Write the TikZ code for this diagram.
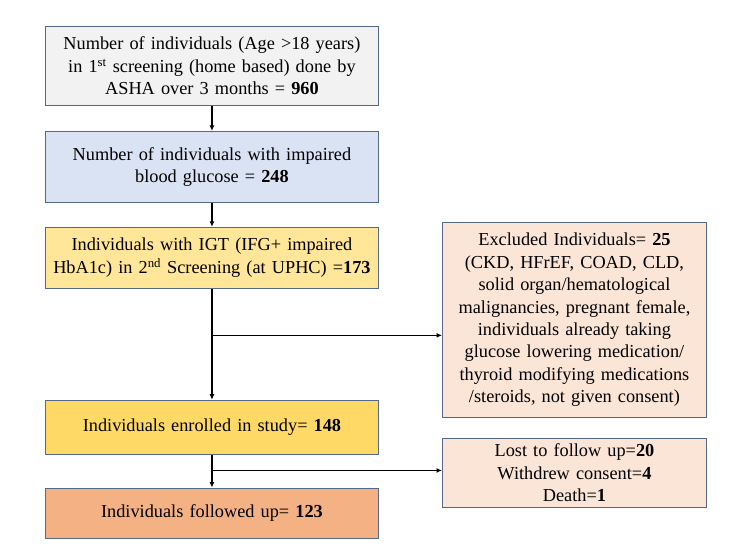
\documentclass[tikz,border=0pt]{standalone}
\usepackage{fontspec}
\setmainfont{Liberation Serif}
\usetikzlibrary{arrows.meta,positioning,calc}
\definecolor{edgeblue}{RGB}{84,104,135}
\definecolor{boxgray}{RGB}{242,242,242}
\definecolor{boxblue}{RGB}{218,227,243}
\definecolor{boxpale}{RGB}{255,230,153}
\definecolor{boxgold}{RGB}{255,217,102}
\definecolor{boxorange}{RGB}{244,177,131}
\definecolor{boxpeach}{RGB}{251,229,214}

\begin{document}
\begin{tikzpicture}[
  x=1pt, y=-1pt,
  font=\fontsize{18.3}{22.4}\selectfont,
  box/.style={draw=edgeblue, line width=0.9pt, align=center, inner sep=2pt, minimum width=333pt, text width=327pt},
  side/.style={draw=edgeblue, line width=0.9pt, align=center, inner sep=2pt, minimum width=264pt, text width=260pt},
  arr/.style={-{Latex[length=5.5pt,width=5pt]}, line width=1.3pt, black}
]
\useasboundingbox (0,0) rectangle (750,555);
\node[box, fill=boxgray, minimum height=79pt, anchor=north west] (scr1) at (45,26)
  {Number of individuals (Age >18 years)\\in 1\textsuperscript{st} screening (home based) done by\\ASHA over 3 months = \textbf{960}};
\node[box, fill=boxblue, minimum height=71pt, below=25pt of scr1] (glu)
  {Number of individuals with impaired\\blood glucose = \textbf{248}};
\node[box, fill=boxpale, minimum height=61pt, below=24pt of glu] (igt)
  {Individuals with IGT (IFG+ impaired\\HbA1c) in 2\textsuperscript{nd} Screening (at UPHC) =\textbf{173}};
\node[box, fill=boxgold, minimum height=54pt, below=111pt of igt] (enr)
  {Individuals enrolled in study= \textbf{148}};
\node[box, fill=boxorange, minimum height=50pt, below=33pt of enr] (fol)
  {Individuals followed up= \textbf{123}};
\node[side, fill=boxpeach, minimum height=195pt, anchor=north west] (excl) at (442,222)
  {Excluded Individuals= \textbf{25}\\(CKD, HFrEF, COAD, CLD,\\solid organ/hematological\\malignancies, pregnant female,\\individuals already taking\\glucose lowering medication/\\thyroid modifying medications\\/steroids, not given consent)};
\node[side, fill=boxpeach, minimum height=69pt, below=20pt of excl] (lost)
  {Lost to follow up=\textbf{20}\\Withdrew consent=\textbf{4}\\Death=\textbf{1}};
\coordinate (b1) at ($(igt.south)!0.42!(enr.north)$);
\coordinate (b2) at ($(enr.south)!0.48!(fol.north)$);
\draw[arr] (scr1) -- (glu);
\draw[arr] (glu) -- (igt);
\draw[arr] (igt) -- (enr);
\draw[arr] (enr) -- (fol);
\draw[arr] (b1) -- (b1 -| excl.west);
\draw[arr] (b2) -- (b2 -| lost.west);
\end{tikzpicture}
\end{document}
